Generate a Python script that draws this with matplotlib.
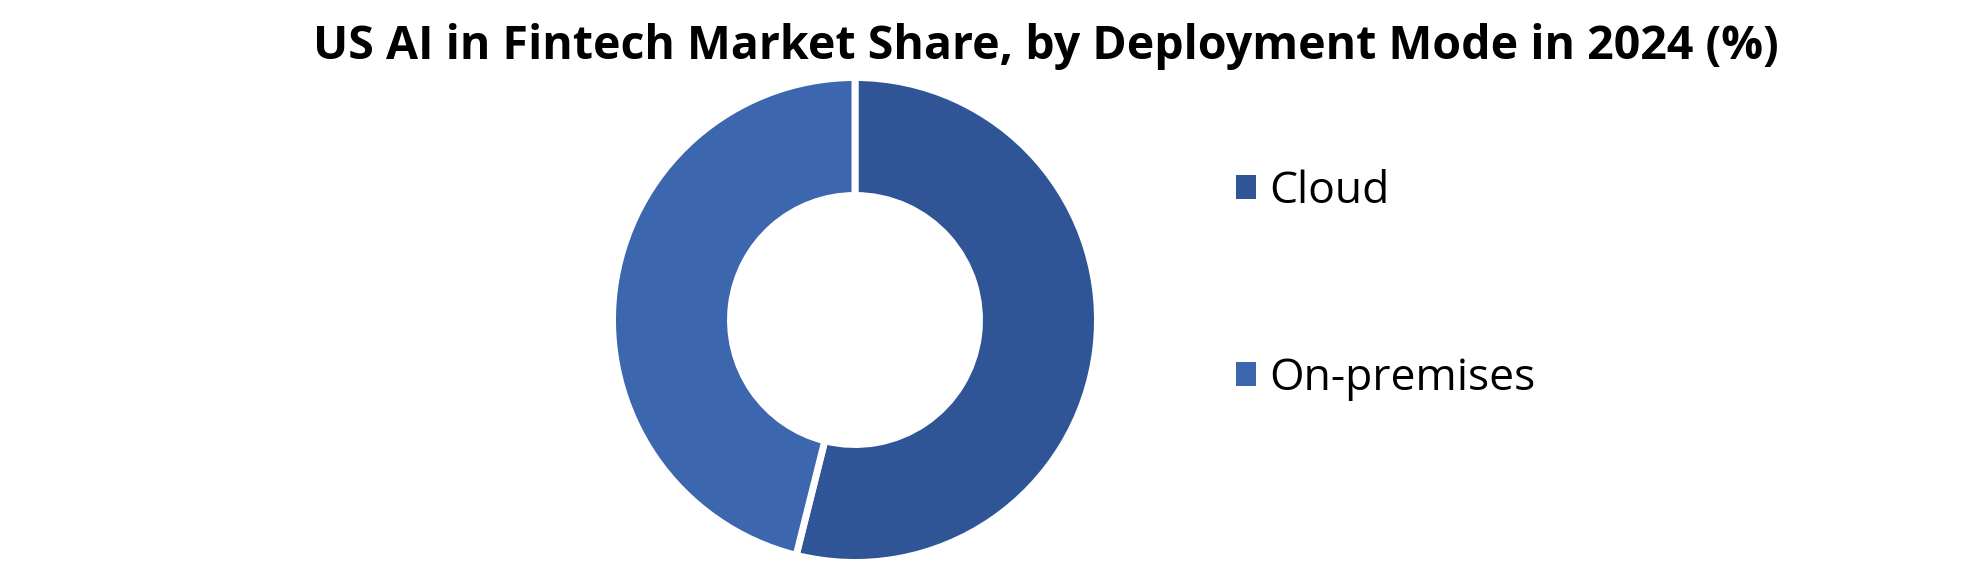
import matplotlib
matplotlib.use("Agg")
import matplotlib.pyplot as plt
from matplotlib.patches import Patch

TITLE = "US AI in Fintech Market Share, by Deployment Mode in 2024 (%)"
MODES = ["Cloud", "On-premises"]
SHARES = [53.9, 46.1]
COLORS = ["#2F5597", "#3C66AE"]

W, H = 1980, 566


def main():
    fig = plt.figure(figsize=(W / 100, H / 100), dpi=100)
    ax = fig.add_axes([0, 0, 1, 1])

    # pixel-based data coordinates so the donut sits where the reference has it
    ax.pie(SHARES, colors=COLORS, startangle=90, counterclock=False,
           center=(855, H - 320), radius=242.5,
           wedgeprops=dict(width=118, edgecolor="white", linewidth=5))
    ax.set_xlim(0, W)
    ax.set_ylim(0, H)
    ax.set_aspect("equal")
    ax.axis("off")

    fig.text(1046 / W, 1 - 46 / H, TITLE, ha="center", va="center",
             fontsize=33.5, fontweight="bold", family="Open Sans")

    handles = [Patch(facecolor=c, edgecolor="none") for c in COLORS]
    ax.legend(handles, MODES, loc="center left",
              bbox_to_anchor=(1214 / W, 1 - 285 / H), frameon=False,
              prop=dict(family="Open Sans", size=32),
              handlelength=0.45, handleheight=0.45, handletextpad=0.3,
              labelspacing=3.2, borderpad=0)

    fig.savefig("out.png", dpi=100)


if __name__ == "__main__":
    main()
